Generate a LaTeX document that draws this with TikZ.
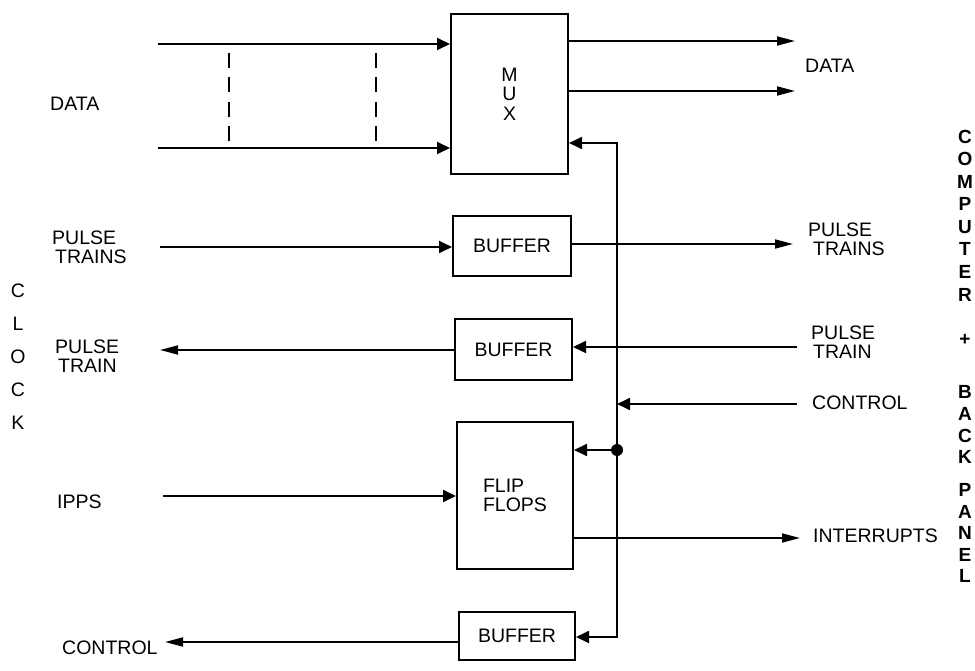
\documentclass[tikz,border=0pt]{standalone}
\usepackage{fontspec}
\setmainfont{Liberation Sans}
\usetikzlibrary{arrows.meta}
\begin{document}
\begin{tikzpicture}[x=1pt,y=-1pt,
  lbl/.style={inner sep=0pt, font=\fontsize{19.5}{19}\selectfont, align=left},
  box/.style={draw, line width=2pt, inner sep=0pt, font=\fontsize{19.5}{19}\selectfont},
  con/.style={line width=1.8pt},
  arrin/.style={con, -{Triangle[length=13pt,width=12pt]}},
  arrout/.style={con, -{Triangle[length=18pt,width=9pt]}},
  bothend/.style={con, {Triangle[length=13pt,width=12pt]}-{Triangle[length=13pt,width=12pt]}},
  dashline/.style={con, dash pattern=on 15pt off 9.5pt}
]
\useasboundingbox (0,0) rectangle (975,671);

% boxes
\node[box, minimum width=117pt, minimum height=160pt, align=center,
      font=\fontsize{19.5}{19.5}\selectfont] (mux) at (509.5,94) {M\\U\\X};
\node[box, minimum width=118pt, minimum height=60pt] (buf1) at (512,246) {BUFFER};
\node[box, minimum width=117pt, minimum height=61pt] (buf2) at (513.5,349.5) {BUFFER};
\node[box, minimum width=116pt, minimum height=147pt, align=left] (ff) at (515,495.5) {FLIP\\FLOPS};
\node[box, minimum width=116pt, minimum height=48pt] (buf3) at (517,636) {BUFFER};

% coordinates
\coordinate (dinA) at (158,44);
\coordinate (dinB) at (158,148);
\coordinate (dsA1) at (229,53);
\coordinate (dsA2) at (229,142);
\coordinate (dsB1) at (376,53);
\coordinate (dsB2) at (376,142);
\coordinate (doutA) at (795,41);
\coordinate (doutB) at (795,91);
\coordinate (busT) at (617,143);
\coordinate (busB) at (617,637);
\coordinate (ptinL) at (160,247);
\coordinate (ptoutR) at (793,244);
\coordinate (pt2R) at (797,347);
\coordinate (pt2L) at (160,350);
\coordinate (ctlR) at (797,404);
\coordinate (jn) at (617,450);
\coordinate (ipps) at (163,496);
\coordinate (intR) at (800,538);
\coordinate (ctlL) at (165,642);

% data in
\draw[arrin] (dinA) -- (dinA -| mux.west);
\draw[arrin] (dinB) -- (dinB -| mux.west);
\draw[dashline] (dsA1) -- (dsA2);
\draw[dashline] (dsB1) -- (dsB2);
% data out
\draw[arrout] (doutA -| mux.east) -- (doutA);
\draw[arrout] (doutB -| mux.east) -- (doutB);
% control bus
\draw[bothend] (busT -| mux.east) -- (busT) -- (busB) -- (busB -| buf3.east);
\draw[arrin] (ctlR) -- (ctlR -| busT);
\fill (jn) circle (6pt);
\draw[arrin] (jn) -- (jn -| ff.east);
% pulse trains
\draw[arrin] (ptinL) -- (ptinL -| buf1.west);
\draw[arrout] (ptoutR -| buf1.east) -- (ptoutR);
\draw[arrin] (pt2R) -- (pt2R -| buf2.east);
\draw[arrout] (pt2L -| buf2.west) -- (pt2L);
% ipps, interrupts, control
\draw[arrin] (ipps) -- (ipps -| ff.west);
\draw[arrout] (intR -| ff.east) -- (intR);
\draw[arrout] (ctlL -| buf3.west) -- (ctlL);

% labels
\node[lbl, anchor=west] (ldata) at (50,104) {DATA};
\node[lbl, anchor=west] (rdata) at (805,66) {DATA};
\node[lbl, anchor=west] (lpts) at (52,247.5) {PULSE\\\hspace*{3pt}TRAINS};
\node[lbl, anchor=west] (lpt) at (55,356) {PULSE\\\hspace*{3pt}TRAIN};
\node[lbl, anchor=west] (rpts) at (808,239.5) {PULSE\\\hspace*{5pt}TRAINS};
\node[lbl, anchor=west] (rpt) at (811,342.5) {PULSE\\\hspace*{2pt}TRAIN};
\node[lbl, anchor=west] (rctl) at (812,403) {CONTROL};
\node[lbl, anchor=west] (rint) at (813,536) {INTERRUPTS};
\node[lbl, anchor=west] (lipps) at (57,502) {IPPS};
\node[lbl, anchor=west] (lctl) at (62,648) {CONTROL};

% vertical words
\foreach \ch/\yy [count=\i] in {C/291,L/324,O/357,C/390,K/423}
  \node[lbl] (clk\i) at (18,\yy) {\ch};
\foreach \ch/\yy [count=\i] in {C/137,O/159,M/182,P/204,U/227,T/249,E/272,R/295,+/340,B/392,A/414,C/436,K/457,P/490,A/512,N/533,E/555,L/576}
  \node[lbl, font=\fontsize{19}{17}\selectfont\bfseries] (cbp\i) at (965,\yy) {\ch};
\end{tikzpicture}
\end{document}
